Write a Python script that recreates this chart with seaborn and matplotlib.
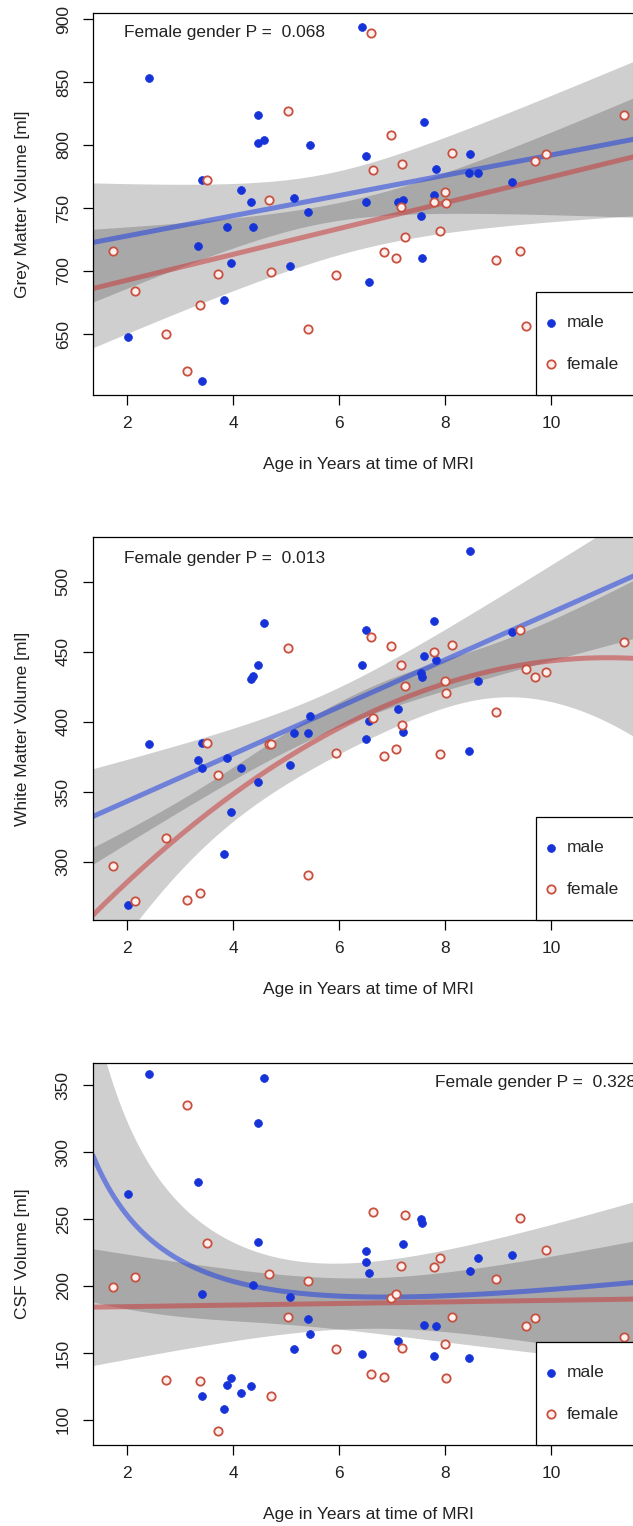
import numpy as np
import pandas as pd
import matplotlib
matplotlib.use("Agg")
import matplotlib.pyplot as plt
import seaborn as sns
from matplotlib.patches import Rectangle

# Age at MRI (years) for each child, by sex
male_age = [2.02, 2.42, 3.34, 3.42, 3.42, 3.83, 3.89, 3.96, 4.15, 4.34, 4.38,
            4.47, 4.47, 4.58, 5.08, 5.15, 5.42, 5.45, 6.43, 6.50, 6.51, 6.57,
            7.12, 7.20, 7.55, 7.57, 7.60, 7.78, 7.83, 8.45, 8.47, 8.62, 9.26]
female_age = [1.74, 2.15, 2.74, 3.13, 3.38, 3.50, 3.72, 4.68, 4.72, 5.04, 5.42,
              5.94, 6.60, 6.64, 6.85, 6.97, 7.08, 7.17, 7.19, 7.24, 7.79, 7.90,
              8.00, 8.02, 8.12, 8.96, 9.41, 9.53, 9.70, 9.90, 11.38]

# Tissue volumes [ml]
male_grey = [648, 853, 720, 772, 613, 677, 735, 706, 764, 755, 735, 824, 802,
             804, 704, 758, 747, 800, 894, 791, 755, 691, 755, 756, 744, 710,
             818, 760, 781, 778, 793, 778, 771]
female_grey = [716, 684, 650, 621, 673, 772, 698, 756, 699, 827, 654, 697, 889,
               780, 715, 808, 710, 751, 785, 727, 755, 732, 763, 754, 794, 709,
               716, 656, 787, 793, 824]

male_white = [269, 384, 373, 385, 367, 306, 374, 336, 367, 431, 433, 441, 357,
              471, 369, 392, 392, 404, 441, 466, 388, 401, 409, 393, 435, 432,
              447, 472, 444, 379, 522, 429, 464]
female_white = [297, 272, 317, 273, 278, 385, 362, 384, 384, 453, 291, 378, 461,
                403, 376, 454, 381, 441, 398, 426, 450, 377, 429, 421, 455, 407,
                466, 438, 432, 436, 457]

male_csf = [269, 358, 278, 194, 118, 108, 126, 131, 120, 125, 201, 322, 233,
            355, 192, 153, 175, 164, 149, 226, 218, 210, 159, 231, 250, 247,
            171, 148, 170, 146, 211, 221, 223]
female_csf = [199, 207, 130, 335, 129, 232, 92, 209, 118, 177, 204, 153, 134,
              255, 132, 191, 194, 215, 154, 253, 214, 221, 157, 131, 177, 205,
              251, 170, 176, 227, 162]

y_labels = ["Grey Matter Volume [ml]", "White Matter Volume [ml]", "CSF Volume [ml]"]
p_values = ["0.068", "0.013", "0.328"]
x_ticks = [2, 4, 6, 8, 10]
y_ticks = [[650, 700, 750, 800, 850, 900],
           [300, 350, 400, 450, 500],
           [100, 150, 200, 250, 300, 350]]
x_title = "Age in Years at time of MRI"

sns.set_theme(style="white")
plt.rcParams["font.family"] = ["Liberation Sans", "DejaVu Sans"]

FS = 12.5
BLUE = "#1533d8"
RED = "#c8503f"
LINE_BLUE = "#2040e0"
LINE_RED = "#c83c3c"
T975 = 2.04  # two-sided 95% t quantile, ~30 residual df


# Trend bases, centred on a reference age
def linear(a, ref):
    return np.column_stack([np.ones_like(a), a - ref])


def quadratic(a, ref):
    c = a - ref
    return np.column_stack([np.ones_like(a), c, c ** 2])


def log_quadratic(a, ref):
    c = np.log(a) - np.log(ref)
    return np.column_stack([np.ones_like(a), c, c ** 2])


def smooth_band(x, y, basis, grid, penalty=0.0):
    """(Penalised) least-squares trend with a pointwise 95% band for the mean."""
    x = np.asarray(x, float)
    y = np.asarray(y, float)
    ref = np.exp(np.mean(np.log(x))) if basis is log_quadratic else x.mean()
    X = basis(x, ref)
    G = basis(grid, ref)
    P = np.zeros((X.shape[1], X.shape[1]))
    if X.shape[1] > 2:
        P[-1, -1] = penalty
    A = np.linalg.inv(X.T @ X + P)
    beta = A @ X.T @ y
    resid = y - X @ beta
    s2 = resid @ resid / (len(y) - X.shape[1])
    cov = s2 * A @ (X.T @ X) @ A
    fit = G @ beta
    se = np.sqrt(np.einsum("ij,jk,ik->i", G, cov, G))
    return fit, fit - T975 * se, fit + T975 * se


W, H = 633, 1526
fig = plt.figure(figsize=(W / 100, H / 100), dpi=100)

# axes boxes in pixels (left, top, right, bottom); the right edge runs past the canvas
boxes = [(93, 13, 643, 395), (93, 537, 643, 920), (93, 1063, 643, 1445)]
ylims = [(601.6, 904.8), (258.6, 532.1), (81.3, 366.5)]
XLIM = (1.36, 11.73)
# trend model per panel: ((male basis, penalty), (female basis, penalty))
fits = [((linear, 0), (linear, 0)),
        ((linear, 0), (quadratic, 0)),
        ((log_quadratic, 1.8), (linear, 0))]
text_pos = [(0.056, 0.948), (0.056, 0.945), (0.622, 0.948)]

panels = [(male_grey, female_grey), (male_white, female_white), (male_csf, female_csf)]
grid = np.linspace(XLIM[0], XLIM[1], 300)

for i, (mvals, fvals) in enumerate(panels):
    l, t, r, b = boxes[i]
    ax = fig.add_axes([l / W, 1 - b / H, (r - l) / W, (b - t) / H])

    dm = pd.DataFrame({"age": male_age, "vol": mvals})
    dfe = pd.DataFrame({"age": female_age, "vol": fvals})
    (bm, pm), (bf, pf) = fits[i]

    m_fit, m_lo, m_hi = smooth_band(male_age, mvals, bm, grid, pm)
    f_fit, f_lo, f_hi = smooth_band(female_age, fvals, bf, grid, pf)

    # confidence bands (grey, overlapping areas turn darker)
    ax.fill_between(grid, m_lo, m_hi, color="black", alpha=0.19, lw=0, zorder=1)
    ax.fill_between(grid, f_lo, f_hi, color="black", alpha=0.19, lw=0, zorder=1)

    # fitted curves
    sns.lineplot(x=grid, y=m_fit, ax=ax, color=LINE_BLUE, lw=3.6, alpha=0.55,
                 zorder=2)
    sns.lineplot(x=grid, y=f_fit, ax=ax, color=LINE_RED, lw=3.6, alpha=0.55,
                 zorder=2)

    # observations
    sns.scatterplot(data=dm, x="age", y="vol", ax=ax, color=BLUE, s=32,
                    edgecolor=BLUE, linewidth=0.5, zorder=4, label="male")
    sns.scatterplot(data=dfe, x="age", y="vol", ax=ax, marker="o", s=36,
                    facecolor="#fdf0ee", edgecolor=RED, linewidth=1.3,
                    zorder=4, label="female")

    ax.set_xlim(*XLIM)
    ax.set_ylim(*ylims[i])

    tx, ty = text_pos[i]
    ax.text(tx, ty, f"Female gender P =  {p_values[i]}", transform=ax.transAxes,
            ha="left", va="center", fontsize=FS, color="#222222")

    ax.set_xticks(x_ticks)
    ax.set_yticks(y_ticks[i])
    ax.set_xlabel(x_title, fontsize=FS, color="#222222")
    ax.set_ylabel(y_labels[i], fontsize=FS, color="#222222")
    ax.xaxis.set_label_coords(0.5, -0.163)
    ax.yaxis.set_label_coords(-0.115, 0.5)
    ax.tick_params(axis="both", direction="out", length=7, width=0.9,
                   color="black", bottom=True, left=True, labelsize=FS,
                   labelcolor="#222222")
    for lbl in ax.get_yticklabels():
        lbl.set_rotation(90)
        lbl.set_va("center")
        lbl.set_ha("right")
    ax.tick_params(axis="x", pad=8)
    ax.tick_params(axis="y", pad=9)
    for sp in ax.spines.values():
        sp.set_color("black")
        sp.set_linewidth(0.9)
    ax.grid(False)

    # legend: boxed key in the lower right corner, running past the right border
    ph = b - t
    box_x0 = (536 - l) / (r - l)
    box_h = 103 / ph
    ax.add_patch(Rectangle((box_x0, 0), 0.4, box_h, transform=ax.transAxes,
                           facecolor="white", edgecolor="black", lw=0.9,
                           zorder=9, clip_on=False))
    leg = ax.legend(loc="center left", bbox_to_anchor=(box_x0, box_h / 2),
                    borderaxespad=0, frameon=False, fontsize=FS,
                    labelspacing=1.5, handlelength=0.9, handletextpad=0.45,
                    borderpad=0.4)
    leg.set_zorder(10)

fig.savefig("out.png", dpi=100)
